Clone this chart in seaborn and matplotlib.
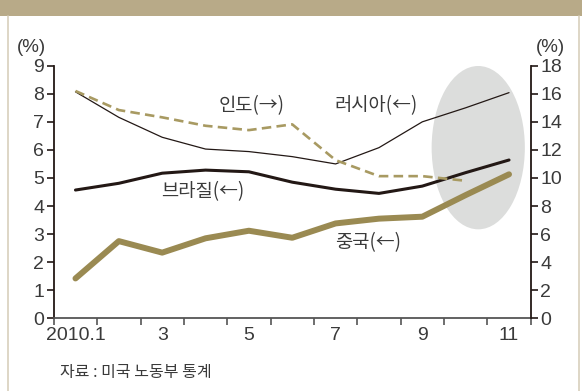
import numpy as np
import pandas as pd
import matplotlib
matplotlib.use("Agg")
import matplotlib.pyplot as plt
from matplotlib.patches import Ellipse, Rectangle
import seaborn as sns

months = [1, 2, 3, 4, 5, 6, 7, 8, 9, 10, 11]
russia = [8.07, 7.16, 6.45, 6.03, 5.94, 5.76, 5.50, 6.08, 7.00, 7.50, 8.04]
brazil = [4.57, 4.81, 5.17, 5.28, 5.22, 4.85, 4.60, 4.45, 4.71, 5.19, 5.64]
china = [1.42, 2.75, 2.34, 2.85, 3.12, 2.87, 3.38, 3.55, 3.62, 4.39, 5.13]
india_months = [1, 2, 3, 4, 5, 6, 7, 8, 9, 10]
india = [16.2, 14.84, 14.32, 13.72, 13.41, 13.82, 11.27, 10.13, 10.13, 9.8]

xtick_pos = [1, 3, 5, 7, 9, 11]
xtick_labels = ["2010.1", "3", "5", "7", "9", "11"]
left_ticks = list(range(0, 10))
right_ticks = list(range(0, 19, 2))

sns.set_style("white")
plt.rcParams['font.family'] = ['Liberation Sans', 'DejaVu Sans']
KR = ['Noto Sans CJK KR', 'DejaVu Sans']

fig = plt.figure(figsize=(5.82, 3.91), dpi=100)
fig.patch.set_facecolor("white")

# frame decorations
fig.add_artist(Rectangle((0, 1 - 16/391), 1, 16/391, transform=fig.transFigure,
                         facecolor="#b8aa88", edgecolor="none"))
fig.add_artist(plt.Line2D([7.5/582, 7.5/582], [0, 1 - 16/391], transform=fig.transFigure,
                          color="#d8cfbc", lw=1.2))
fig.add_artist(plt.Line2D([579/582, 579/582], [0, 1 - 16/391], transform=fig.transFigure,
                          color="#d8cfbc", lw=1.2))

ax = fig.add_axes([53.8/582, 72.7/391, (530.7-53.8)/582, (318.3-65.7)/391])
ax.set_facecolor("none")
ax2 = ax.twinx()

df_left = pd.DataFrame({"month": months, "russia": russia, "brazil": brazil, "china": china})
df_india = pd.DataFrame({"month": india_months, "india": india})

ax.add_patch(Ellipse((10.29, 6.08), 2.15, 5.82, facecolor="#dcdddc", edgecolor="none", zorder=0))

sns.lineplot(data=df_left, x="month", y="china", ax=ax, color="#9a8a52", lw=4.3, zorder=3)
sns.lineplot(data=df_left, x="month", y="brazil", ax=ax, color="#231815", lw=2.2, zorder=4)
sns.lineplot(data=df_left, x="month", y="russia", ax=ax, color="#231815", lw=0.9, zorder=5)
sns.lineplot(data=df_india, x="month", y="india", ax=ax2, color="#a89a62", lw=1.9,
             dashes=False, zorder=5).lines[0].set_dashes([3.6, 2.0])

ax.set_xlim(0.5, 11.5)
ax.set_ylim(0, 9)
ax2.set_ylim(0, 18)
ax.set_yticks(left_ticks)
ax2.set_yticks(right_ticks)
ax.set_xticks(xtick_pos)
ax.set_xticklabels(xtick_labels)
ax.set_xticks(np.arange(0.5, 12, 1), minor=True)
ax.set_xlabel("")
ax.set_ylabel("")
ax2.set_ylabel("")

for a in (ax, ax2):
    a.spines["top"].set_visible(False)
    for s in ("left", "right", "bottom"):
        a.spines[s].set_color("#231815")
        a.spines[s].set_linewidth(1.3)
ax.spines["right"].set_visible(False)
ax2.spines["left"].set_visible(False)
ax2.spines["bottom"].set_visible(False)
ax.spines["bottom"].set_color("#555555")

ax.tick_params(axis="y", direction="out", length=5, width=1.2, color="#231815",
               labelsize=14, labelcolor="#3a3a3a", pad=2, left=True)
ax2.tick_params(axis="y", direction="out", length=5, width=1.2, color="#231815",
                labelsize=14, labelcolor="#3a3a3a", pad=2, right=True)
ax.tick_params(axis="x", which="major", length=0, labelsize=14, labelcolor="#3a3a3a", pad=6)
ax.tick_params(axis="x", which="minor", direction="out", length=5, width=1.2, color="#555555", bottom=True)

fig.text(31/582, 1 - 47/391, "(%)", fontsize=13.5, color="#3a3a3a", ha="center", va="center")
fig.text(550/582, 1 - 47/391, "(%)", fontsize=13.5, color="#3a3a3a", ha="center", va="center")

def lab(x, y, s):
    fig.text(x/582, 1 - y/391, s, fontsize=13.5, color="#3a3a3a", ha="center", va="center", family=KR)

lab(252, 106, "인도(→)")
lab(376, 106, "러시아(←)")
lab(203, 192, "브라질(←)")
lab(368, 243, "중국(←)")

fig.text(60/582, 1 - 372/391, "자료 : 미국 노동부 통계", fontsize=11.5, color="#3a3a3a",
         ha="left", va="center", family=KR)

fig.savefig("out.png", dpi=100)
